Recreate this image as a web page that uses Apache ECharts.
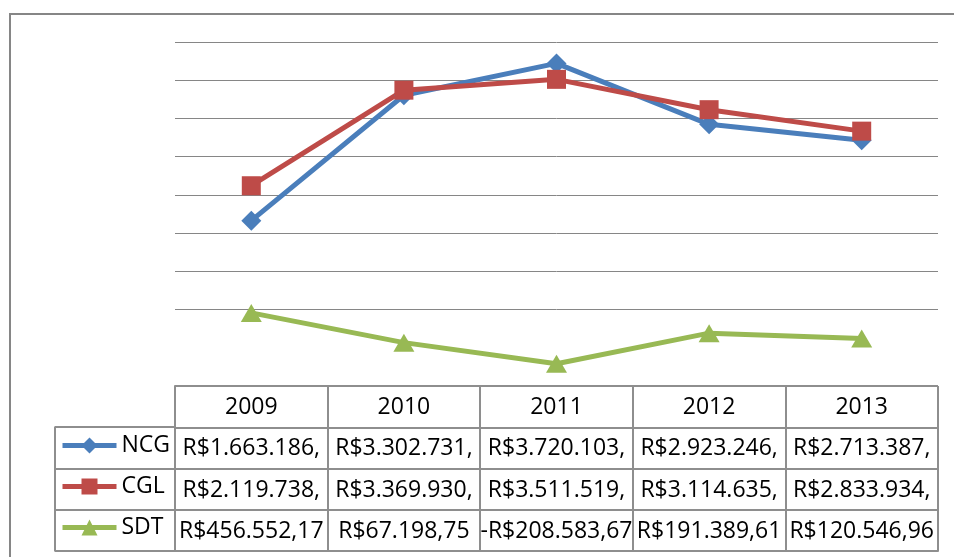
<!DOCTYPE html>
<html>
<head>
<meta charset="utf-8">
<script src="https://cdn.jsdelivr.net/npm/echarts@6/dist/echarts.min.js"></script>
<style>
html,body{margin:0;padding:0;background:#fff;}
#chart{width:954px;height:557px;}
</style>
</head>
<body>
<div id="chart"></div>
<script>
const years = ['2009', '2010', '2011', '2012', '2013'];
const seriesNames = ['NCG', 'CGL', 'SDT'];
const ncg = [1663186, 3302731, 3720103, 2923246, 2713387];
const cgl = [2119738, 3369930, 3511519, 3114635, 2833934];
const sdt = [456552.17, 67198.75, -208583.67, 191389.61, 120546.96];
const ncgText = ['R$1.663.186,', 'R$3.302.731,', 'R$3.720.103,', 'R$2.923.246,', 'R$2.713.387,'];
const cglText = ['R$2.119.738,', 'R$3.369.930,', 'R$3.511.519,', 'R$3.114.635,', 'R$2.833.934,'];
const sdtText = ['R$456.552,17', 'R$67.198,75', '-R$208.583,67', 'R$191.389,61', 'R$120.546,96'];
const tableRows = ['Ano', 'NCG', 'CGL', 'SDT'];

const FONT = '"Open Sans", "Noto Sans", sans-serif';
const GRID = '#868686';
const TABLE = '#8e8e8e';
const colors = ['#4A7EBB', '#BE4B48', '#98B954'];

// table cells
const rowTexts = [years, ncgText, cglText, sdtText];
const cells = [];
rowTexts.forEach((arr, r) => arr.forEach((t, c) => cells.push({ c, r, text: t })));

const chart = echarts.init(document.getElementById('chart'), null, { renderer: 'canvas' });

const splitColors = [];
for (let i = 0; i < 10; i++) splitColors.push(i === 1 ? 'rgba(0,0,0,0)' : GRID);

const option = {
  animation: false,
  backgroundColor: '#fff',
  color: colors,
  graphic: [{
    type: 'rect',
    shape: { x: 10, y: 14, width: 1000, height: 600 },
    style: { fill: 'none', stroke: GRID, lineWidth: 2 },
    silent: true,
    z: -10
  }],
  legend: {
    data: seriesNames,
    orient: 'vertical',
    left: 60,
    top: 434,
    padding: 0,
    itemWidth: 54,
    itemHeight: 20,
    itemGap: 18,
    lineStyle: { width: 5 },
    textStyle: { fontFamily: FONT, fontSize: 23, color: '#000' }
  },
  grid: [
    { left: 175, right: 16, top: 42, height: 344 },
    { left: 175, right: 16, top: 386, height: 165 },
    { left: 54.5, width: 120.5, top: 427, height: 124 }
  ],
  xAxis: [
    { gridIndex: 0, type: 'category', data: years, boundaryGap: true, show: false },
    {
      gridIndex: 1, type: 'category', data: years, boundaryGap: true,
      axisLine: { show: true, lineStyle: { color: TABLE, width: 2 } },
      axisTick: { show: false }, axisLabel: { show: false },
      splitLine: { show: true, lineStyle: { color: TABLE, width: 2 } }
    },
    {
      gridIndex: 2, type: 'value', min: 0, max: 1, interval: 1,
      axisLine: { show: false }, axisTick: { show: false }, axisLabel: { show: false },
      splitLine: { show: true, lineStyle: { color: TABLE, width: 2 } }
    }
  ],
  yAxis: [
    {
      gridIndex: 0, type: 'value', min: -500000, max: 4000000, interval: 500000,
      axisLine: { show: false }, axisTick: { show: false }, axisLabel: { show: false },
      splitLine: { show: true, lineStyle: { color: splitColors, width: 1 } }
    },
    {
      gridIndex: 1, type: 'category', data: tableRows, inverse: true, boundaryGap: true,
      axisLine: { show: true, lineStyle: { color: TABLE, width: 2 } },
      axisTick: { show: false }, axisLabel: { show: false },
      splitLine: { show: true, lineStyle: { color: TABLE, width: 2 } }
    },
    {
      gridIndex: 2, type: 'category', data: seriesNames, inverse: true, boundaryGap: true,
      axisLine: { show: false }, axisTick: { show: false }, axisLabel: { show: false },
      splitLine: { show: true, lineStyle: { color: TABLE, width: 2 } }
    }
  ],
  series: [
    {
      name: 'NCG', type: 'line', data: ncg, xAxisIndex: 0, yAxisIndex: 0,
      symbol: 'diamond', symbolSize: 20,
      lineStyle: { width: 5, color: colors[0] },
      itemStyle: { color: colors[0] }
    },
    {
      name: 'CGL', type: 'line', data: cgl, xAxisIndex: 0, yAxisIndex: 0,
      symbol: 'rect', symbolSize: 19,
      lineStyle: { width: 5, color: colors[1] },
      itemStyle: { color: colors[1] }
    },
    {
      name: 'SDT', type: 'line', data: sdt, xAxisIndex: 0, yAxisIndex: 0,
      symbol: 'triangle', symbolSize: [21, 18],
      lineStyle: { width: 5, color: colors[2] },
      itemStyle: { color: colors[2] }
    },
    {
      name: 'tabela', type: 'custom', xAxisIndex: 1, yAxisIndex: 1,
      data: cells.map(d => [d.c, d.r]),
      silent: true,
      renderItem: function (params, api) {
        const cell = cells[params.dataIndex];
        const pt = api.coord([api.value(0), api.value(1)]);
        return {
          type: 'text',
          x: pt[0], y: pt[1] + 1,
          style: {
            text: cell.text,
            fill: '#000',
            font: '23px ' + FONT,
            align: 'center',
            verticalAlign: 'middle'
          }
        };
      }
    }
  ]
};
chart.setOption(option);
</script>
</body>
</html>
